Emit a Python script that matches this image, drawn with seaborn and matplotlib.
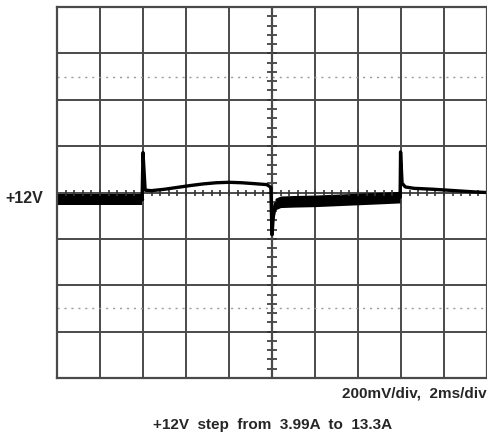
import numpy as np
import matplotlib
matplotlib.use("Agg")
import matplotlib.pyplot as plt
import seaborn as sns
import pandas as pd

# scope trace: time in ms (2 ms/div), voltage offset from +12V in mV (200 mV/div)
# light-load segments (thin trace)
light1_t = [3.96, 4.0, 4.1, 4.4, 5.0, 5.6, 6.2, 6.8, 7.4, 8.0, 8.6, 9.2, 9.76, 9.95]
light1_v = [-20, 172, 10, 8, 14, 22, 30, 37, 42, 44, 42, 38, 34, 22]
light2_t = [15.96, 15.98, 16.05, 16.2, 16.6, 17.5, 18.5, 19.5, 20.0]
light2_v = [-10, 175, 40, 24, 18, 14, 8, 2, 0]

# heavy-load segments (noisy band: centre line)
heavy1_t = [0.0, 2.0, 3.95]
heavy1_v = [-30, -30, -30]
heavy2_t = [9.95, 10.0, 10.05, 10.15, 10.4, 11.0, 12.0, 13.0, 14.0, 15.0, 15.95]
heavy2_v = [20, -182, -110, -50, -40, -38, -36, -32, -28, -24, -20]
band_half = 25

sns.set_style("white")
plt.rcParams['font.family'] = ['Liberation Sans', 'DejaVu Sans']

fig = plt.figure(figsize=(4.87, 4.36), dpi=100)
ax = fig.add_axes([57 / 487, 58 / 436, 430 / 487, 371 / 436])

grid_col = "#4a4a4a"
ax.set_xlim(0, 20)
ax.set_ylim(-800, 800)
ax.set_xticks(np.arange(0, 21, 2))
ax.set_yticks(np.arange(-800, 801, 200))
ax.grid(True, color=grid_col, linewidth=1.4)
ax.tick_params(length=0, labelbottom=False, labelleft=False)
for s in ax.spines.values():
    s.set_color(grid_col)
    s.set_linewidth(1.6)

# dotted reference lines
for yv in (500, -500):
    ax.axhline(yv, color="#9a9a9a", linewidth=1.0, linestyle=(0, (1.5, 3.5)))

# centre-axis minor ticks
minor_x = np.arange(0, 20.01, 0.4)
ax.plot(minor_x, np.zeros_like(minor_x), linestyle="none", marker="|",
        markersize=5, color="#333333", markeredgewidth=1.2)
minor_y = np.arange(-800, 801, 40)
ax.plot(np.full_like(minor_y, 10.0, dtype=float), minor_y, linestyle="none",
        marker="_", markersize=7, color="#333333", markeredgewidth=1.2)
ax.axvline(10, color=grid_col, linewidth=1.6)

# heavy-load noisy band
for t, v in ((heavy1_t, heavy1_v), (heavy2_t, heavy2_v)):
    t = np.array(t); v = np.array(v)
    ax.fill_between(t, v - band_half, v + band_half, color="black", linewidth=0)
    sns.lineplot(x=t, y=v, ax=ax, color="black", linewidth=2.5, sort=False)

# light-load thin trace
for t, v in ((light1_t, light1_v), (light2_t, light2_v)):
    df = pd.DataFrame({"t": t, "v": v})
    sns.lineplot(data=df, x="t", y="v", ax=ax, color="black", linewidth=2.4, sort=False)

# connect the steps
ax.plot([heavy1_t[-1], light1_t[0]], [heavy1_v[-1], light1_v[0]], color="black", linewidth=2.4)
ax.plot([heavy2_t[-1], light2_t[0]], [heavy2_v[-1], light2_v[0]], color="black", linewidth=2.4)

ax.set_xlabel("")
ax.set_ylabel("")

fig.text(24 / 487, 1 - 198 / 436, "+12V", ha="center", va="center",
         fontsize=11.5, fontweight="bold")
fig.text(487 / 487, 1 - 393 / 436, "200mV/div,  2ms/div", ha="right", va="center",
         fontsize=11, fontweight="bold")
fig.text(273 / 487, 1 - 425 / 436, "+12V  step  from  3.99A  to  13.3A", ha="center",
         va="center", fontsize=11, fontweight="bold")

fig.savefig("out.png", dpi=100, facecolor="white")
